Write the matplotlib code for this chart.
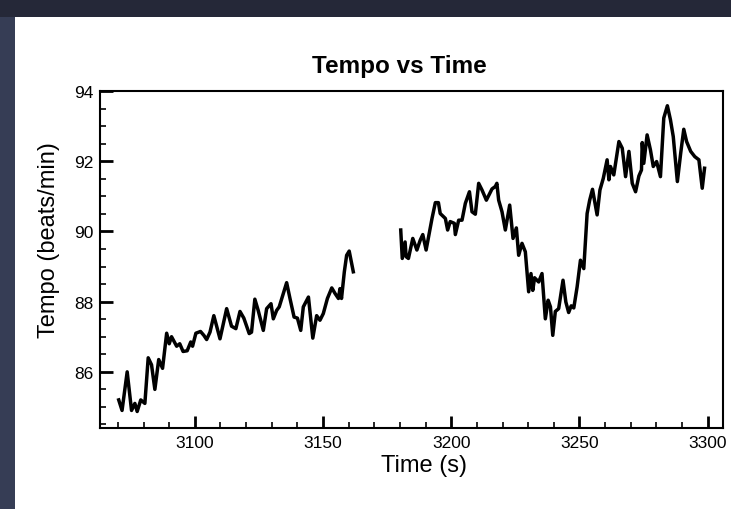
import numpy as np
import matplotlib.pyplot as plt
from matplotlib.patches import Rectangle
from matplotlib.ticker import MultipleLocator

plt.rcParams['font.family'] = ['Liberation Sans', 'DejaVu Sans']

# first stretch of the recording
time_a = [3070.3, 3071.6, 3073.6, 3075.3, 3076.6, 3077.5, 3078.9, 3080.5, 3081.8, 3083.1,
          3084.4, 3085.9, 3087.4, 3089.0, 3090.0, 3090.9, 3092.9, 3094.1, 3095.4, 3097.0,
          3098.4, 3099.1, 3100.4, 3102.2, 3103.5, 3104.6, 3105.9, 3107.4, 3108.5, 3109.8,
          3112.4, 3114.3, 3116.0, 3117.6, 3119.1, 3121.2, 3122.1, 3123.4, 3124.7, 3126.7,
          3128.0, 3129.7, 3130.6, 3131.9, 3132.9, 3135.8, 3137.1, 3138.7, 3140.0, 3141.3,
          3142.3, 3144.3, 3146.0, 3147.5, 3148.8, 3150.1, 3151.7, 3153.4, 3154.7, 3156.0,
          3156.6, 3157.2, 3158.3, 3159.2, 3160.2, 3161.8]
tempo_a = [85.2, 84.9, 86.0, 84.9, 85.1, 84.87, 85.2, 85.1, 86.4, 86.2,
           85.5, 86.35, 86.1, 87.1, 86.8, 87.0, 86.73, 86.8, 86.58, 86.6,
           86.85, 86.73, 87.1, 87.15, 87.04, 86.92, 87.13, 87.6, 87.3, 86.94,
           87.8, 87.3, 87.23, 87.72, 87.53, 87.09, 87.13, 88.07, 87.75, 87.18,
           87.8, 87.94, 87.51, 87.75, 87.85, 88.54, 88.09, 87.56, 87.53, 87.18,
           87.85, 88.13, 86.96, 87.6, 87.47, 87.66, 88.09, 88.39, 88.23, 88.09,
           88.37, 88.09, 88.85, 89.32, 89.44, 88.85]

# second stretch after the gap
time_b = [3180.3, 3180.9, 3182.0, 3182.4, 3183.3, 3185.0, 3186.6, 3187.9, 3188.9, 3190.2,
          3192.5, 3193.8, 3195.0, 3195.7, 3197.7, 3198.6, 3199.6, 3201.2, 3201.6, 3202.9,
          3204.2, 3205.5, 3207.1, 3208.1, 3209.4, 3210.7, 3212.0, 3213.7, 3215.9, 3217.2,
          3217.8, 3218.5, 3219.8, 3221.1, 3222.8, 3224.1, 3225.4, 3226.3, 3227.6, 3228.9,
          3230.2, 3231.1, 3231.8, 3232.5, 3234.1, 3235.4, 3236.7, 3237.8, 3238.7, 3239.6,
          3240.6, 3241.9, 3243.6, 3244.7, 3245.8, 3246.8, 3247.8, 3249.1, 3250.4, 3251.7,
          3253.0, 3254.0, 3255.1, 3256.9, 3258.0, 3259.3, 3260.8, 3261.5, 3262.1, 3263.4,
          3265.4, 3266.7, 3268.0, 3269.3, 3270.6, 3271.9, 3273.2, 3274.2, 3274.5, 3275.1,
          3276.4, 3277.7, 3278.8, 3280.1, 3281.6, 3282.9, 3284.3, 3285.5, 3286.6, 3288.2,
          3289.5, 3290.7, 3291.8, 3293.4, 3295.0, 3296.6, 3297.9, 3298.8]
tempo_b = [90.04, 89.23, 89.7, 89.28, 89.23, 89.8, 89.47, 89.75, 89.91, 89.47,
           90.37, 90.82, 90.82, 90.51, 90.37, 90.04, 90.28, 90.23, 89.91, 90.32,
           90.32, 90.8, 91.13, 90.56, 90.49, 91.37, 91.18, 90.89, 91.21, 91.28,
           91.37, 90.89, 90.56, 90.04, 90.75, 89.8, 90.1, 89.32, 89.66, 89.42,
           88.28, 88.8, 88.32, 88.68, 88.56, 88.8, 87.51, 88.04, 87.85, 87.04,
           87.72, 87.8, 88.61, 87.99, 87.69, 87.88, 87.82, 88.42, 89.18, 88.94,
           90.51, 90.89, 91.2, 90.47, 91.18, 91.51, 92.04, 91.47, 91.85, 91.61,
           92.56, 92.37, 91.56, 92.28, 91.37, 91.13, 91.58, 91.75, 92.53, 91.94,
           92.75, 92.32, 91.85, 91.99, 91.56, 93.23, 93.58, 93.18, 92.7, 91.42,
           92.23, 92.91, 92.56, 92.28, 92.13, 92.04, 91.23, 91.8]

fig = plt.figure(figsize=(7.31, 5.10), dpi=100)
fig.patch.set_facecolor('#252838')
# lighter slate strip on the left, then the white slide panel
fig.patches.append(Rectangle((0, 0), 15 / 731, (510 - 18) / 510, transform=fig.transFigure,
                             facecolor='#363d55', edgecolor='none', zorder=-11))
fig.patches.append(Rectangle((15 / 731, 0), 1, (510 - 18) / 510, transform=fig.transFigure,
                             facecolor='white', edgecolor='none', zorder=-10))

ax = fig.add_axes([100 / 731, 81 / 510, 623 / 731, 337 / 510])
ax.plot(time_a, tempo_a, color='black', linewidth=2.5)
ax.plot(time_b, tempo_b, color='black', linewidth=2.5)

ax.set_xlim(3063, 3306)
ax.set_ylim(84.4, 94)
ax.xaxis.set_major_locator(MultipleLocator(50))
ax.xaxis.set_minor_locator(MultipleLocator(10))
ax.yaxis.set_major_locator(MultipleLocator(2))
ax.yaxis.set_minor_locator(MultipleLocator(0.5))
ax.tick_params(which='both', direction='in', labelsize=12.5, width=1.2)
ax.tick_params(which='major', length=9, width=2, pad=5)
ax.tick_params(which='minor', length=4)
for s in ax.spines.values():
    s.set_linewidth(1.5)

ax.set_title('Tempo vs Time', fontsize=17.5, fontweight='bold', pad=14, x=0.48)
ax.set_xlabel('Time (s)', fontsize=17, labelpad=3, x=0.52)
ax.set_ylabel('Tempo (beats/min)', fontsize=17, labelpad=10, y=0.56)

fig.savefig('out.png', dpi=100, facecolor=fig.get_facecolor())
